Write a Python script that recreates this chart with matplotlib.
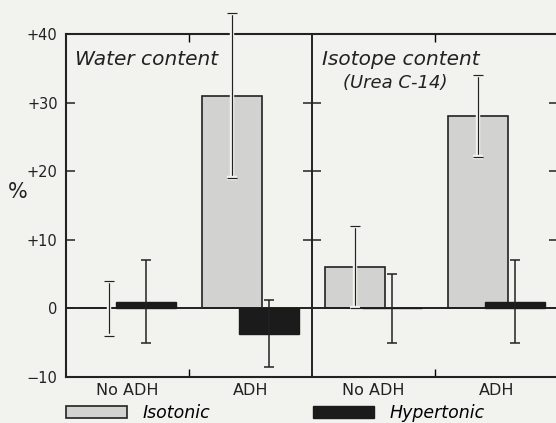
import numpy as np
import matplotlib
matplotlib.use('Agg')
import matplotlib.pyplot as plt
import matplotlib.patheffects as pe

# valores (%)
groups = ['No ADH', 'ADH']
water_iso = [0.0, 31.0]
water_iso_err = [4.0, 12.0]
water_hyp = [1.0, -3.7]
water_hyp_err = [6.0, 4.9]
isot_iso = [6.0, 28.0]
isot_iso_err = [6.0, 6.0]
isot_hyp = [0.0, 1.0]
isot_hyp_err = [5.0, 6.0]
yticks = [-10, 0, 10, 20, 30, 40]
ylabels = ['\u221210', '0', '+10', '+20', '+30', '+40']

bg = '#f2f2ef'
ink = '#222222'
gris = '#d2d2d0'
negro = '#1b1b1b'

fig = plt.figure(figsize=(5.56, 4.23), dpi=100, facecolor=bg)
ax = fig.add_axes([66/556, 46/423, 492/556, 343/423], facecolor=bg)

w = 0.49
off = 0.15
centers = np.array([0.5, 1.5])

for k, (iso, isoe, hyp, hype) in enumerate([(water_iso, water_iso_err, water_hyp, water_hyp_err),
                                           (isot_iso, isot_iso_err, isot_hyp, isot_hyp_err)]):
    xc = centers + 2*k
    b1 = ax.bar(xc - off, iso, w, color=gris, edgecolor=ink, lw=1.2, zorder=2)
    b2 = ax.bar(xc + off, hyp, w, color=negro, edgecolor=negro, lw=1.0, zorder=2.2)
    e1 = ax.errorbar(xc - off, iso, yerr=isoe, fmt='none', ecolor=ink, elinewidth=0.85,
                     capsize=3.3, capthick=0.85, zorder=3)
    for art in e1.lines[1] + e1.lines[2]:
        art.set_clip_on(False)
        art.set_path_effects([pe.withStroke(linewidth=3.2, foreground=bg)])
    e2 = ax.errorbar(xc + off, hyp, yerr=hype, fmt='none', ecolor=ink, elinewidth=1.1,
                     capsize=3.3, capthick=1.1, zorder=3)
    if k == 0:
        h_iso, h_hyp = b1, b2

ax.axhline(0, color=ink, lw=1.4, zorder=2.1)
ax.axvline(2, color=ink, lw=1.4, zorder=2.5)
ax.hlines([10, 20, 30], 2 - 0.07, 2 + 0.07, color=ink, lw=1.1)

ax.set_xlim(0, 4)
ax.set_ylim(-10, 40)
ax.set_yticks(yticks)
ax.set_yticklabels(ylabels, fontsize=10.5, color=ink)
ax.tick_params(axis='y', direction='in', length=6.5, width=1.1, pad=6, right=True, colors=ink)
ax.set_xticks([1, 3])
ax.set_xticklabels([])
ax.tick_params(axis='x', which='major', direction='in', length=6, width=1.0, top=True)
ax.set_xticks([0.5, 1.5, 2.5, 3.5], minor=True)
ax.set_xticklabels(groups * 2, minor=True, fontsize=11.5)
ax.tick_params(axis='x', which='minor', length=0, pad=4, colors=ink)
for s in ax.spines.values():
    s.set_linewidth(1.5)
    s.set_color(ink)

ax.set_ylabel('%', rotation=0, fontsize=15, color=ink)
ax.yaxis.set_label_coords(-0.098, 0.51)

ax.text(0.018, 0.952, 'Water content', transform=ax.transAxes, fontsize=14.5,
        style='italic', va='top', ha='left', color=ink)
ax.text(0.52, 0.952, 'Isotope content', transform=ax.transAxes, fontsize=14.5,
        style='italic', va='top', ha='left', color=ink)
ax.text(0.563, 0.882, '(Urea C-14)', transform=ax.transAxes, fontsize=13,
        style='italic', va='top', ha='left', color=ink)

kw = dict(frameon=False, prop={'size': 12.5, 'style': 'italic'}, handlelength=3.5,
          handleheight=0.7, handletextpad=0.9, borderpad=0, borderaxespad=0, loc='upper left')
leg1 = fig.legend([h_iso], ['Isotonic'], bbox_to_anchor=(66/556, 1 - 404/423), **kw)
leg2 = fig.legend([h_hyp], ['Hypertonic'], bbox_to_anchor=(313/556, 1 - 404/423), **kw)

fig.savefig('out.png', dpi=100, facecolor=bg)
